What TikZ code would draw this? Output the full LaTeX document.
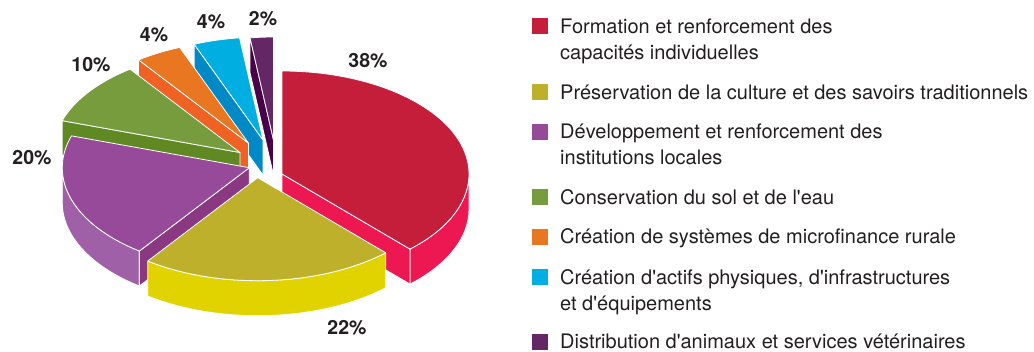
\documentclass[tikz,border=0pt]{standalone}
\usepackage{fontspec}
\setmainfont{TeX Gyre Heros}
\usetikzlibrary{calc}
\definecolor{redtop}{HTML}{C41E3A}
\definecolor{redside}{HTML}{ED1851}
\definecolor{yeltop}{HTML}{BFB02C}
\definecolor{yelside}{HTML}{E1D300}
\definecolor{purtop}{HTML}{974A99}
\definecolor{purside}{HTML}{A060A8}
\definecolor{purrad}{HTML}{8B3883}
\definecolor{grntop}{HTML}{769C3E}
\definecolor{grnrad}{HTML}{608923}
\definecolor{orgtop}{HTML}{E97620}
\definecolor{orgrad}{HTML}{F06124}
\definecolor{cyntop}{HTML}{00AEE2}
\definecolor{cynrad}{HTML}{0089C7}
\definecolor{dputop}{HTML}{642664}
\definecolor{dpurad}{HTML}{480048}
\definecolor{txt}{HTML}{231F20}
\newcommand{\apos}{\textquotesingle}
\begin{document}
\begin{tikzpicture}[x=1pt,y=1pt,
  face/.style={draw=white,line width=0.8pt,line join=round},
  pct/.style={font=\fontsize{19.5}{22}\selectfont\bfseries,text=txt,inner sep=0pt},
  legtxt/.style={font=\fontsize{20}{26}\selectfont,text=txt,inner sep=0pt,anchor=base west,align=left},
  legsq/.style={minimum size=16pt,inner sep=0pt,anchor=north west}]
\useasboundingbox (0,0) rectangle (1034,-351);
% ---- dark purple 2%
\begin{scope}[shift={(273.5,-140)}]
  \fill[dpurad,face] (0,0) -- (97.2:187pt and 103pt) -- ++(0,-35) -- (0,-35) -- cycle;
  \fill[dputop,face] (0,0) -- (90:187pt and 103pt) arc[start angle=90,end angle=97.2,x radius=187pt,y radius=103pt] -- cycle;
\end{scope}
% ---- cyan 4%
\begin{scope}[shift={(263,-140)}]
  \fill[cynrad,face] (0,0) -- (111.6:187pt and 103pt) -- ++(0,-35) -- (0,-35) -- cycle;
  \fill[cyntop,face] (0,0) -- (97.2:187pt and 103pt) arc[start angle=97.2,end angle=111.6,x radius=187pt,y radius=103pt] -- cycle;
\end{scope}
% ---- orange 4%
\begin{scope}[shift={(248.5,-143.2)}]
  \fill[orgrad,face] (0,0) -- (126:187pt and 103pt) -- ++(0,-35) -- (0,-35) -- cycle;
  \fill[orgtop,face] (0,0) -- (111.6:187pt and 103pt) arc[start angle=111.6,end angle=126,x radius=187pt,y radius=103pt] -- cycle;
\end{scope}
% ---- green 10%
\begin{scope}[shift={(240,-152.5)}]
  \fill[grnrad,face] (0,0) -- (162:187pt and 103pt) -- ++(0,-35) -- (0,-35) -- cycle;
  \fill[grntop,face] (0,0) -- (126:187pt and 103pt) arc[start angle=126,end angle=162,x radius=187pt,y radius=103pt] -- cycle;
\end{scope}
% ---- red 38%
\begin{scope}[shift={(282,-174)}]
  \fill[redside,face] (-46.8:187pt and 103pt) arc[start angle=-46.8,end angle=0,x radius=187pt,y radius=103pt] -- ++(0,-35) arc[start angle=0,end angle=-46.8,x radius=187pt,y radius=103pt] -- cycle;
  \fill[redside,face] (0,0) -- (-46.8:187pt and 103pt) -- ++(0,-35) -- (0,-35) -- cycle;
  \fill[redtop,face] (0,0) -- (-46.8:187pt and 103pt) arc[start angle=-46.8,end angle=90,x radius=187pt,y radius=103pt] -- cycle;
\end{scope}
% ---- purple 20%
\begin{scope}[shift={(249.3,-167.7)}]
  \fill[purside,face] (180:187pt and 103pt) arc[start angle=180,end angle=234,x radius=187pt,y radius=103pt] -- ++(0,-35) arc[start angle=234,end angle=180,x radius=187pt,y radius=103pt] -- cycle;
  \fill[purrad,face] (0,0) -- (234:187pt and 103pt) -- ++(0,-35) -- (0,-35) -- cycle;
  \fill[purtop,face] (0,0) -- (162:187pt and 103pt) arc[start angle=162,end angle=234,x radius=187pt,y radius=103pt] -- cycle;
\end{scope}
% ---- yellow 22%
\begin{scope}[shift={(257.7,-177.7)}]
  \fill[yelside,face] (-126:187pt and 103pt) arc[start angle=-126,end angle=-46.8,x radius=187pt,y radius=103pt] -- ++(0,-35) arc[start angle=-46.8,end angle=-126,x radius=187pt,y radius=103pt] -- cycle;
  \fill[yeltop,face] (0,0) -- (-126:187pt and 103pt) arc[start angle=-126,end angle=-46.8,x radius=187pt,y radius=103pt] -- cycle;
\end{scope}
% ---- percentage labels
\node[pct] (p38) at (368,-61) {38\%};
\node[pct] (p22) at (347,-328) {22\%};
\node[pct] (p20) at (32,-158) {20\%};
\node[pct] (p10) at (91,-65) {10\%};
\node[pct] (p4a) at (154,-35) {4\%};
\node[pct] (p4b) at (211,-22) {4\%};
\node[pct] (p2) at (263,-19) {2\%};
% ---- legend (multi-line nodes anchored at the baseline of their last line)
\node[legsq,fill=redtop] (s1) at (532,-18) {};
\node[legtxt] (l1) at (560,-59) {Formation et renforcement des\\capacités individuelles};
\node[legsq,fill=yeltop] (s2) at (532,-84) {};
\node[legtxt] (l2) at (560,-99) {Préservation de la culture et des savoirs traditionnels};
\node[legsq,fill=purtop] (s3) at (532,-124) {};
\node[legtxt] (l3) at (560,-164) {Développement et renforcement des\\institutions locales};
\node[legsq,fill=grntop] (s4) at (532,-189) {};
\node[legtxt] (l4) at (560,-204) {Conservation du sol et de l\apos eau};
\node[legsq,fill=orgtop] (s5) at (532,-229) {};
\node[legtxt] (l5) at (560,-243) {Création de systèmes de microfinance rurale};
\node[legsq,fill=cyntop] (s6) at (532,-269) {};
\node[legtxt] (l6) at (560,-310) {Création d\apos actifs physiques, d\apos infrastructures\\et d\apos équipements};
\node[legsq,fill=dputop] (s7) at (532,-334) {};
\node[legtxt] (l7) at (560,-348) {Distribution d\apos animaux et services vétérinaires};
\end{tikzpicture}
\end{document}
